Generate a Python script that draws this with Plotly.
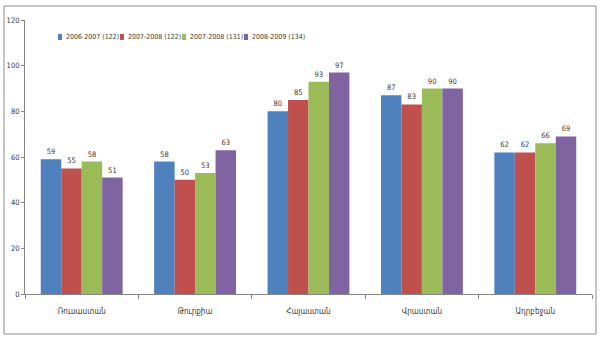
import plotly.graph_objects as go

categories = ["Ռուսաստան", "Թուրքիա", "Հայաստան", "Վրաստան", "Ադրբեջան"]
series_names = ["2006-2007 (122)", "2007-2008 (122)", "2007-2008 (131)", "2008-2009 (134)"]
s1 = [59, 58, 80, 87, 62]
s2 = [55, 50, 85, 83, 62]
s3 = [58, 53, 93, 90, 66]
s4 = [51, 63, 97, 90, 69]
series_values = [s1, s2, s3, s4]
colors = ["#4F81BD", "#C0504D", "#9BBB59", "#8064A2"]

W, H = 600, 342
ML, MR, MT, MB = 25, 8, 20, 48
pw, ph = W - ML - MR, H - MT - MB

def px_x(x):
    return (x - ML) / pw

def px_y(y):
    return (H - MB - y) / ph

FONT = "DejaVu Sans Condensed, DejaVu Sans, sans-serif"
TXT = "#3A3A3A"

fig = go.Figure()
for name, vals, c in zip(series_names, series_values, colors):
    fig.add_trace(go.Bar(
        x=categories, y=vals, name=name,
        marker=dict(color=c, line=dict(width=0)),
        text=[str(v) for v in vals], textposition="outside",
        textfont=dict(size=7.5, color=TXT, family=FONT),
        outsidetextfont=dict(size=7.5, color=TXT, family=FONT),
        cliponaxis=False, showlegend=False,
    ))

fig.update_layout(
    width=W, height=H,
    margin=dict(l=ML, r=MR, t=MT, b=MB, autoexpand=False),
    paper_bgcolor="white", plot_bgcolor="white",
    barmode="group", bargap=0.278, bargroupgap=0,
    uniformtext=dict(mode=False),
    font=dict(family=FONT, size=7.5, color=TXT),
    showlegend=False,
    xaxis=dict(showline=True, linecolor="#868686", linewidth=1, ticks="outside",
               tickson="boundaries", ticklen=4, tickcolor="#868686", automargin=False,
               tickfont=dict(size=8, color=TXT, family=FONT),
               ticklabelstandoff=9, showgrid=False),
    yaxis=dict(range=[0, 120], dtick=20, showline=True, linecolor="#868686", linewidth=1,
               ticks="outside", ticklen=3, tickcolor="#868686", showgrid=False, automargin=False,
               zeroline=False, tickfont=dict(size=7.5, color=TXT, family=FONT)),
)

# legend built from series names/colors
leg_x = [58, 120, 182, 244]
leg_y = 37
for name, c, lx in zip(series_names, colors, leg_x):
    fig.add_shape(type="rect", xref="paper", yref="paper",
                  x0=px_x(lx), x1=px_x(lx + 4), y0=px_y(leg_y + 3), y1=px_y(leg_y - 3),
                  line=dict(width=0), fillcolor=c)
    fig.add_annotation(xref="paper", yref="paper", x=px_x(lx + 6), y=px_y(leg_y),
                       xanchor="left", yanchor="middle", text=name, showarrow=False,
                       font=dict(size=7, color=TXT, family=FONT))

fig.add_shape(type="rect", xref="paper", yref="paper",
              x0=px_x(4), x1=px_x(596), y0=px_y(334), y1=px_y(6),
              line=dict(color="#8C8C8C", width=1), fillcolor="rgba(0,0,0,0)", layer="below")

fig.write_html("out.html")
